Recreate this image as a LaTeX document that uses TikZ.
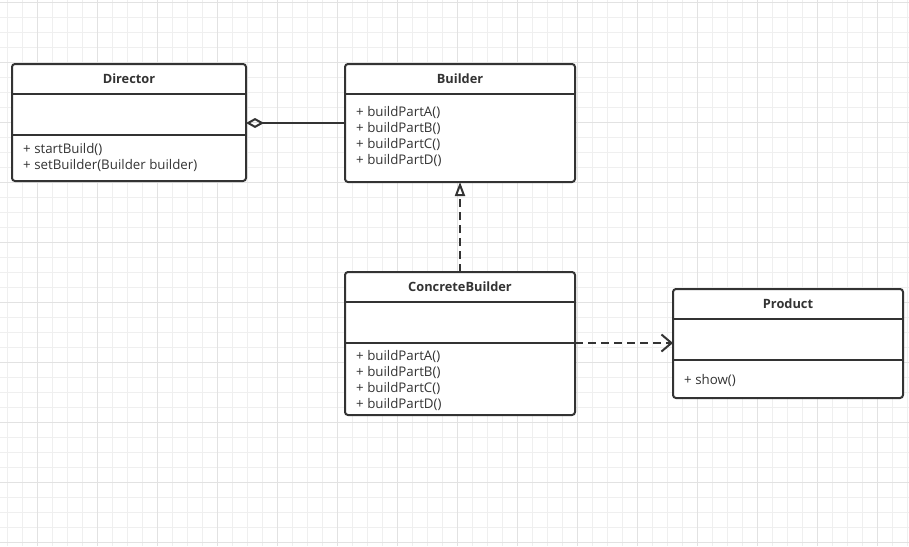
\documentclass[tikz,border=0pt]{standalone}
\usepackage{fontspec}
\setmainfont{Open Sans}
\usetikzlibrary{arrows.meta}
\definecolor{ink}{HTML}{333333}
\definecolor{gridminor}{HTML}{EFEFEF}
\definecolor{gridmajor}{HTML}{E2E2E2}
\tikzset{
  classbox/.style={draw=ink, line width=2pt, rounded corners=3pt, fill=white, anchor=north west, inner sep=0pt, outer sep=0pt},
  divider/.style={draw=ink, line width=2pt},
  classtitle/.style={text=ink, font=\bfseries\fontsize{12.8}{14}\selectfont, inner sep=0pt},
  member/.style={text=ink, font=\fontsize{13.3}{14}\selectfont, anchor=west, inner sep=0pt},
  connector/.style={draw=ink, line width=2pt},
  dashedconn/.style={connector, dash pattern=on 8pt off 5pt},
}
\begin{document}
\begin{tikzpicture}[x=1pt,y=-1pt]
\fill[white] (0,0) rectangle (909,546);
\useasboundingbox (0,0) rectangle (909,546);
% grid
\foreach \x in {7.5,22.5,...,907.5} \draw[gridminor, line width=1pt] (\x,0) -- (\x,546);
\foreach \y in {2.5,17.5,...,545} \draw[gridminor, line width=1pt] (0,\y) -- (909,\y);
\foreach \x in {37.5,97.5,...,907.5} \draw[gridmajor, line width=1pt] (\x,0) -- (\x,546);
\foreach \y in {2.5,62.5,...,545} \draw[gridmajor, line width=1pt] (0,\y) -- (909,\y);

% Director
\node[classbox, minimum width=234, minimum height=117] (director) at (12,64) {};
\draw[divider] (director.west |- 0,94) -- (director.east |- 0,94);
\draw[divider] (director.west |- 0,135) -- (director.east |- 0,135);
\node[classtitle] (directorT) at (129,79) {Director};
\node[member] (directorM1) at (23,149) {+ startBuild()};
\node[member] (directorM2) at (23,165) {+ setBuilder(Builder builder)};

% Builder
\node[classbox, minimum width=230, minimum height=118] (builder) at (345,64) {};
\draw[divider] (builder.west |- 0,94) -- (builder.east |- 0,94);
\node[classtitle] (builderT) at (460,79) {Builder};
\node[member] (builderM1) at (356,112) {+ buildPartA()};
\node[member] (builderM2) at (356,128) {+ buildPartB()};
\node[member] (builderM3) at (356,144) {+ buildPartC()};
\node[member] (builderM4) at (356,160) {+ buildPartD()};

% ConcreteBuilder
\node[classbox, minimum width=230, minimum height=143] (cbuilder) at (345,272) {};
\draw[divider] (cbuilder.west |- 0,302) -- (cbuilder.east |- 0,302);
\draw[divider] (cbuilder.west |- 0,343) -- (cbuilder.east |- 0,343);
\node[classtitle] (cbuilderT) at (460,287) {ConcreteBuilder};
\node[member] (cbuilderM1) at (356,356) {+ buildPartA()};
\node[member] (cbuilderM2) at (356,372) {+ buildPartB()};
\node[member] (cbuilderM3) at (356,388) {+ buildPartC()};
\node[member] (cbuilderM4) at (356,404) {+ buildPartD()};

% Product
\node[classbox, minimum width=230, minimum height=109] (product) at (673,289) {};
\draw[divider] (product.west |- 0,319) -- (product.east |- 0,319);
\draw[divider] (product.west |- 0,360) -- (product.east |- 0,360);
\node[classtitle] (productT) at (788,304) {Product};
\node[member] (productM1) at (684,380) {+ show()};

% connectors
\draw[connector, -{Diamond[open, length=18pt, width=10pt, line width=2pt]}]
  (builder.west |- 0,123) -- (director.east |- 0,123);
\draw[dashedconn, -{Triangle[open, length=14pt, width=10pt, line width=2pt]}]
  (cbuilder.north) -- (builder.south);
\draw[dashedconn, -{Straight Barb[length=10pt, width=17pt, line width=2pt]}]
  (cbuilder.east |- 0,343) -- (product.west |- 0,343);
\end{tikzpicture}
\end{document}
